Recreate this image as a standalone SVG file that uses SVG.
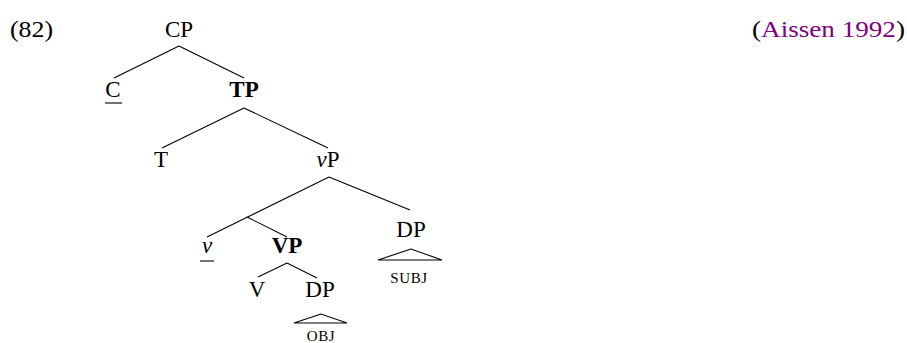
<svg xmlns="http://www.w3.org/2000/svg" width="907" height="343" viewBox="0 0 907 343">
<style>
text{font-family:"Liberation Serif","Times New Roman",serif;font-size:23px;fill:#000}
.n{text-anchor:middle}
.b{font-weight:bold}
.sc{font-size:15px;letter-spacing:0.6px}
.cite{fill:#800080}
line,polygon,polyline{stroke:#000;stroke-width:1.1;fill:none}
</style>
<rect width="907" height="343" fill="#fff"/>
<text id="num" x="10" y="37" textLength="43" lengthAdjust="spacingAndGlyphs">(82)</text>
<text id="cite" x="752" y="37" textLength="153" lengthAdjust="spacingAndGlyphs">(<tspan class="cite">Aissen 1992</tspan>)</text>
<g id="connectors">
<line x1="179" y1="46" x2="114" y2="78"/>
<line x1="179" y1="46" x2="244" y2="78"/>
<line x1="244" y1="108" x2="162" y2="148"/>
<line x1="244" y1="108" x2="328" y2="148"/>
<line x1="329" y1="177" x2="207" y2="237"/>
<line x1="247" y1="217" x2="287" y2="237"/>
<line x1="329" y1="177" x2="410" y2="210"/>
<line x1="287" y1="263" x2="258" y2="277"/>
<line x1="287" y1="263" x2="317" y2="278"/>
</g>
<g id="CP"><text class="n" x="179" y="37">CP</text></g>
<g id="C"><text class="n" x="113" y="97">C</text><line x1="105" y1="103" x2="122" y2="103"/></g>
<g id="TP"><text class="n b" x="244" y="97">TP</text></g>
<g id="T"><text class="n" x="161" y="167">T</text></g>
<g id="vP"><text class="n" x="328" y="167"><tspan font-style="italic">v</tspan>P</text></g>
<g id="v"><text class="n" x="207" y="253" font-style="italic">v</text><line x1="200" y1="261" x2="214" y2="261"/></g>
<g id="VP"><text class="n b" x="287" y="253">VP</text></g>
<g id="DPsubj"><text class="n" x="411" y="237">DP</text><polygon points="411,249 378,260 442,260"/><text class="n sc" x="409" y="283">SUBJ</text></g>
<g id="V"><text class="n" x="257" y="297">V</text></g>
<g id="DPobj"><text class="n" x="320" y="297">DP</text><polygon points="321,314 294,323 347,323"/><text class="n sc" x="321" y="341">OBJ</text></g>
</svg>
